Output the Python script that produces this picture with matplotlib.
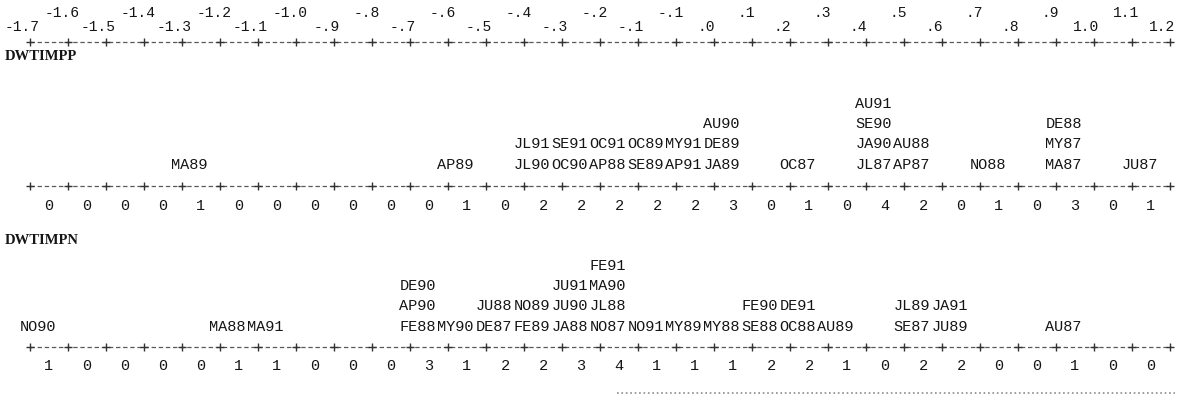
import matplotlib.pyplot as plt

# Scale values printed above the first axis (two staggered rows)
scale_top = ["-1.6", "-1.4", "-1.2", "-1.0", "-.8", "-.6", "-.4", "-.2",
             "-.1", ".1", ".3", ".5", ".7", ".9", "1.1"]
scale_bottom = ["-1.7", "-1.5", "-1.3", "-1.1", "-.9", "-.7", "-.5", "-.3",
                "-.1", ".0", ".2", ".4", ".6", ".8", "1.0", "1.2"]

# Frequencies per bin (30 bins)
counts_pp = [0, 0, 0, 0, 1, 0, 0, 0, 0, 0, 0, 1, 0, 2, 2, 2, 2, 2, 3, 0,
             1, 0, 4, 2, 0, 1, 0, 3, 0, 1]
counts_pn = [1, 0, 0, 0, 0, 1, 1, 0, 0, 0, 3, 1, 2, 2, 3, 4, 1, 1, 1, 2,
             2, 1, 0, 2, 2, 0, 0, 1, 0, 0]

# Month labels stacked in each bin, bottom to top (bins numbered from 1)
labels_pp = {5: ["MA89"], 12: ["AP89"], 14: ["JL90", "JL91"],
             15: ["OC90", "SE91"], 16: ["AP88", "OC91"], 17: ["SE89", "OC89"],
             18: ["AP91", "MY91"], 19: ["JA89", "DE89", "AU90"], 21: ["OC87"],
             23: ["JL87", "JA90", "SE90", "AU91"], 24: ["AP87", "AU88"],
             26: ["NO88"], 28: ["MA87", "MY87", "DE88"], 30: ["JU87"]}
labels_pn = {1: ["NO90"], 6: ["MA88"], 7: ["MA91"],
             11: ["FE88", "AP90", "DE90"], 12: ["MY90"], 13: ["DE87", "JU88"],
             14: ["FE89", "NO89"], 15: ["JA88", "JU90", "JU91"],
             16: ["NO87", "JL88", "MA90", "FE91"], 17: ["NO91"], 18: ["MY89"],
             19: ["MY88"], 20: ["SE88", "FE90"], 21: ["OC88", "DE91"],
             22: ["AU89"], 24: ["SE87", "JL89"], 25: ["JU89", "JA91"],
             28: ["AU87"]}

mono = "Liberation Mono"
ink = "#151515"

fig = plt.figure(figsize=(11.81, 4.03), dpi=100)
ax = fig.add_axes([0, 0, 1, 1])
# x in bin units (one bin = 38 px), y in pixels from the top
ax.set_xlim(-30 / 38, 1151 / 38)
ax.set_ylim(403, 0)
ax.axis("off")


def draw_axis(y):
    ax.plot([0, 30], [y, y], ls=(0, (3.5, 2.2)), lw=0.9, color="0.35")
    ax.plot(range(31), [y] * 31, ls="none", marker="+", ms=6, mew=1.0,
            color="0.2")


# scale
for i, s in enumerate(scale_bottom):
    ax.text(2 * i - 0.2, 27, s, ha="center", va="center", family=mono,
            fontsize=10.5, color=ink)
for i, s in enumerate(scale_top):
    ax.text(2 * i + 1 - 0.15, 13, s, ha="center", va="center", family=mono,
            fontsize=10.5, color=ink)
draw_axis(42)

panels = [("DWTIMPP", counts_pp, labels_pp, 57, 165, 186, 206),
          ("DWTIMPN", counts_pn, labels_pn, 241, 327, 347, 366)]

for name, counts, labels, y_name, y_lab, y_axis, y_cnt in panels:
    ax.text(-25 / 38, y_name, name, ha="left", va="center",
            family="Liberation Serif", weight="bold", fontsize=10.5, color=ink)
    for b, stack in labels.items():
        for lvl, lab in enumerate(stack):
            ax.text(b - 0.5 - 0.3, y_lab - 20.5 * lvl, lab, ha="center",
                    va="center", family=mono, fontsize=11, color=ink)
    draw_axis(y_axis)
    for i, c in enumerate(counts):
        ax.text(i + 0.5, y_cnt, str(c), ha="center", va="center",
                family=mono, fontsize=11, color=ink)

# faint rule at the bottom of the page
ax.plot([(617 - 30) / 38, (1175 - 30) / 38], [393, 393], ls=":", lw=1.2,
        color="0.55")

fig.savefig("out.png", dpi=100)
